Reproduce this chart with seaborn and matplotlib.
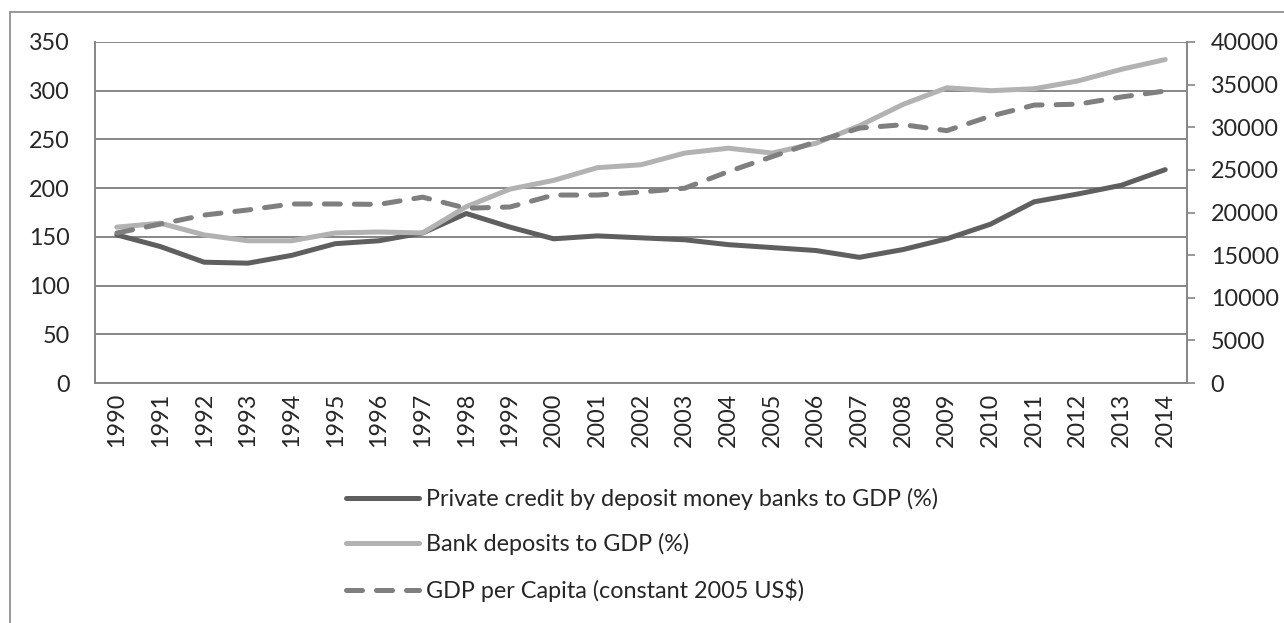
import matplotlib
matplotlib.use("Agg")
import matplotlib.pyplot as plt
import matplotlib.patches as patches
import pandas as pd
import seaborn as sns

# ---- data ---- #
years = list(range(1990, 2015))

private_credit = [152, 140, 124, 123, 131, 143, 146, 154, 174, 160, 148, 151,
                  149, 147, 142, 139, 136, 129, 137, 148, 163, 186, 194, 203, 219]

bank_deposits = [160, 164, 152, 146, 146, 154, 155, 154, 181, 199, 208, 221,
                 224, 236, 241, 236, 246, 264, 286, 303, 300, 302, 310, 322, 332]

gdp_per_capita = [17600, 18650, 19700, 20300, 21000, 21000, 20950, 21800, 20500,
                  20650, 22050, 22050, 22400, 22850, 24800, 26550, 28300, 29900,
                  30300, 29600, 31300, 32600, 32700, 33550, 34250]

labels = ["Private credit by deposit money banks to GDP (%)",
          "Bank deposits to GDP (%)",
          "GDP per Capita (constant 2005 US$)"]

df = pd.DataFrame({"Year": years, "credit": private_credit,
                   "deposits": bank_deposits, "gdp": gdp_per_capita})

sns.set_style("white")
plt.rcParams['font.family'] = ['Lato', 'DejaVu Sans']

grid_col = "#868686"
fs = 16.8

fig = plt.figure(figsize=(12.84, 6.23), dpi=100)
ax = fig.add_axes([0.074, 0.3852, 0.8505, 0.5474])
ax2 = ax.twinx()

sns.lineplot(data=df, x="Year", y="credit", ax=ax, color="#5f5f5f", lw=3.6,
             label=labels[0], legend=False)
sns.lineplot(data=df, x="Year", y="deposits", ax=ax, color="#b2b2b2", lw=3.6,
             label=labels[1], legend=False)
sns.lineplot(data=df, x="Year", y="gdp", ax=ax2, color="#7f7f7f", lw=3.6,
             label=labels[2], legend=False)
for ln in ax.lines + ax2.lines:
    ln.set_solid_capstyle("round")
    ln.set_solid_joinstyle("round")
ax2.lines[0].set_dashes((3.2, 2.8))
ax2.lines[0].set_dash_capstyle("round")

ax.set_ylim(0, 350)
ax.set_yticks(range(0, 351, 50))
ax2.set_ylim(0, 40000)
ax2.set_yticks(range(0, 40001, 5000))
ax.set_xlim(1989.5, 2014.5)
ax.set_xticks(years)
ax.set_xticklabels([str(y) for y in years], rotation=90, fontsize=fs)
ax.set_xlabel("")
ax.set_ylabel("")
ax2.set_ylabel("")

ax.yaxis.grid(True, color=grid_col, lw=1.4)
ax.set_axisbelow(True)
ax.tick_params(axis="y", labelsize=fs, length=0, pad=18)
ax.tick_params(axis="x", length=0, pad=7)
ax2.tick_params(axis="y", labelsize=fs, length=6, color=grid_col, width=1.2, pad=11)
for lab in ax2.get_yticklabels():
    lab.set_horizontalalignment("left")

for a in (ax, ax2):
    for s in a.spines.values():
        s.set_visible(False)
ax.spines["left"].set_visible(True)
ax.spines["left"].set_color(grid_col)
ax.spines["bottom"].set_visible(True)
ax.spines["bottom"].set_color(grid_col)
ax2.spines["right"].set_visible(True)
ax2.spines["right"].set_color(grid_col)
for s in ("left", "bottom", "right"):
    ax.spines[s].set_linewidth(1.4)
    ax2.spines[s].set_linewidth(1.4)

# legend below the plot
h1, l1 = ax.get_legend_handles_labels()
h2, l2 = ax2.get_legend_handles_labels()
fig.legend(h1 + h2, l1 + l2, loc="center", bbox_to_anchor=(0.5, 0.125),
           frameon=False, fontsize=fs, handlelength=3.1, handletextpad=0.3,
           labelspacing=1.0, alignment="left")

# outer chart border
fig.patches.append(patches.Rectangle((10 / 1284, -0.05), 1.2, 1 - 12 / 623 + 0.05,
                                     transform=fig.transFigure, fill=False,
                                     edgecolor=grid_col, lw=1.2))

fig.savefig("out.png", dpi=100)
